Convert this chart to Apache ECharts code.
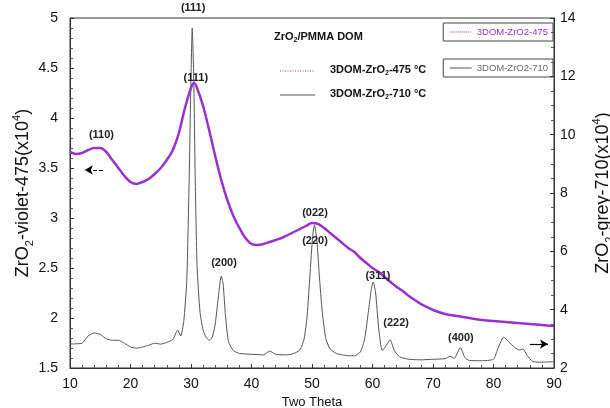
<!DOCTYPE html>
<html><head><meta charset="utf-8">
<script src="https://cdn.jsdelivr.net/npm/echarts@6/dist/echarts.min.js"></script>
<style>html,body{margin:0;padding:0;background:#fff}#c{width:610px;height:408px}</style>
</head><body><div id="c"></div>
<script>
// ---- data ----
const twoTheta475 = [10,11,12,13,14,15,16,17,18,19,20,21,22,23,24,25,26,27,28,29,30,30.5,31,32,33,34,35,36,37,38,39,40,41,42,43,44,45,46,47,48,49,50,51,52,53,54,55,56,57,58,59,60,61,62,63,64,65,66,67,68,69,70,72,74,76,78,80,82,84,86,88,90];
const intensity475 = [3.66,3.64,3.65,3.68,3.70,3.70,3.66,3.58,3.50,3.42,3.36,3.34,3.36,3.39,3.44,3.50,3.58,3.68,3.85,4.10,4.30,4.35,4.30,4.12,3.88,3.62,3.38,3.18,3.02,2.90,2.80,2.74,2.73,2.74,2.76,2.78,2.80,2.83,2.86,2.89,2.92,2.95,2.94,2.90,2.85,2.80,2.75,2.70,2.66,2.60,2.55,2.50,2.46,2.41,2.36,2.31,2.27,2.22,2.18,2.14,2.11,2.08,2.04,2.02,2.00,1.98,1.97,1.96,1.95,1.94,1.93,1.92];

const twoTheta710 = [10,11,12,13,14,15,16,17,18,19,20,21,22,23,24,25,26,27,27.8,28.3,28.8,29.3,29.7,30.0,30.2,30.45,30.7,31.0,31.5,32,32.5,33,33.5,34,34.5,35,35.3,35.7,36.2,37,38,40,42,43,44,46,47,48,48.7,49.2,49.7,50.1,50.4,50.8,51.2,51.7,52.3,53,54,55,56,57,58,58.7,59.3,59.8,60.1,60.5,61,61.6,62.2,62.9,63.6,64.5,66,68,70,72,72.8,73.5,74.5,75.3,76,78,80,80.6,81.2,81.7,82.5,83.5,84.3,84.9,85.5,86.5,88,90];
const intensity710 = [2.82,2.83,2.85,3.10,3.20,3.15,3.00,2.95,2.95,2.85,2.72,2.68,2.72,2.78,2.85,2.82,2.88,2.98,3.30,3.10,3.60,5.00,8.50,12.00,13.65,12.00,8.50,5.50,3.90,3.30,3.05,2.95,3.05,3.50,4.40,5.15,4.90,3.80,2.90,2.60,2.50,2.47,2.45,2.58,2.47,2.45,2.50,2.62,3.00,3.80,5.30,6.50,6.90,6.40,5.20,3.90,3.00,2.65,2.50,2.45,2.42,2.42,2.55,3.00,3.90,4.70,4.95,4.60,3.40,2.60,2.75,2.97,2.60,2.38,2.30,2.28,2.30,2.32,2.40,2.33,2.70,2.35,2.26,2.25,2.30,2.60,2.90,3.06,2.90,2.70,2.62,2.65,2.45,2.22,2.20,2.22];

const seriesNames = ['3DOM-ZrO2-475', '3DOM-ZrO2-710'];
const xTickLabels = [10,20,30,40,50,60,70,80,90];

// peak annotations: [label, twoTheta, value, labelOffsetY] on the axis of the series they belong to
const peaks475 = [['(110)',15.2,3.83,0],['(111)',30.8,4.40,0],['(022)',50.5,3.05,0]];
const peaks710 = [['(111)',30.35,14,-10],['(220)',50.5,6.36,0],['(200)',35.45,5.60,0],['(311)',60.9,5.16,0],['(222)',63.9,3.54,0],['(400)',74.6,3.03,0]];
// axis-pointer arrows
const arrow475 = [[15.45,3.48],[12.45,3.48]];
const arrow710 = [[86.0,2.82],[89.0,2.82]];

const purple = '#9b30d0';
const grey = '#555555';
const FONT = 'Liberation Sans, Arial, sans-serif';

const pairs = (xs, ys) => xs.map((x, i) => [x, ys[i]]);
const peakLabel = p => ({ name: p[0], coord: [p[1], p[2]], label: { offset: [0, p[3]] } });
const nameRich = {
  a: { fontSize: 18, lineHeight: 24, verticalAlign: 'middle', fontFamily: FONT, color: '#111' },
  s: { fontSize: 11, lineHeight: 11, verticalAlign: 'bottom', fontFamily: FONT, color: '#111' },
  p: { fontSize: 11, lineHeight: 11, verticalAlign: 'top', fontFamily: FONT, color: '#111' }
};
const subRich = { s: { fontSize: 7, fontWeight: 'bold', verticalAlign: 'bottom', lineHeight: 7, padding: [6, 0, 0, 0], fill: '#111', fontFamily: FONT },
                  n: { fontSize: 11, fontWeight: 'bold', lineHeight: 14, verticalAlign: 'middle', fill: '#111', fontFamily: FONT } };

const chart = echarts.init(document.getElementById('c'));
chart.setOption({
  animation: false,
  backgroundColor: '#fff',
  textStyle: { fontFamily: FONT },
  grid: { left: 70, right: 56, top: 18, bottom: 40, containLabel: false, outerBoundsMode: 'none',
    show: true, borderColor: '#333', borderWidth: 1, backgroundColor: 'transparent' },
  legend: [
    { data: [seriesNames[0]], right: 57, top: 23, orient: 'horizontal', padding: [4, 5, 4, 6],
      borderColor: '#444', borderWidth: 1, itemWidth: 22, itemHeight: 8, itemGap: 4,
      itemStyle: { opacity: 0 },
      textStyle: { color: purple, fontSize: 9.5, fontFamily: FONT }, lineStyle: { type: 'dotted', width: 1 } },
    { data: [seriesNames[1]], right: 57, top: 59, orient: 'horizontal', padding: [4, 5, 4, 6],
      borderColor: '#444', borderWidth: 1, itemWidth: 22, itemHeight: 8, itemGap: 4,
      itemStyle: { opacity: 0 },
      textStyle: { color: '#666', fontSize: 9.5, fontFamily: FONT }, lineStyle: { width: 1 } }
  ],
  xAxis: {
    type: 'value', min: 10, max: 90, interval: 10,
    name: 'Two Theta', nameLocation: 'middle', nameGap: 26,
    nameTextStyle: { fontSize: 13, color: '#111', fontFamily: FONT },
    axisLine: { lineStyle: { color: '#333' } },
    axisTick: { inside: true, length: 4, lineStyle: { color: '#333' } },
    minorTick: { show: true, splitNumber: 5, length: 3, lineStyle: { color: '#555' } },
    axisLabel: { fontSize: 14, color: '#111', margin: 9, fontFamily: FONT,
      formatter: v => xTickLabels.includes(v) ? String(v) : '' },
    splitLine: { show: false }
  },
  yAxis: [
    { type: 'value', min: 1.5, max: 5, interval: 0.5, position: 'left',
      name: '{a|ZrO}{s|2}{a|-violet-475(x10}{p|4}{a|)}', nameLocation: 'middle', nameGap: 35, nameRotate: 90,
      nameMoveOverlap: false,
      nameTextStyle: { fontSize: 18, color: '#111', fontFamily: FONT, rich: nameRich },
      axisLine: { show: true, lineStyle: { color: '#333' } },
      axisTick: { inside: true, length: 4, lineStyle: { color: '#333' } },
      minorTick: { show: true, splitNumber: 5, length: 3, lineStyle: { color: '#555' } },
      axisLabel: { fontSize: 14, color: '#111', margin: 12, fontFamily: FONT },
      splitLine: { show: false } },
    { type: 'value', min: 2, max: 14, interval: 2, position: 'right',
      name: '{a|ZrO}{s|2}{a|-grey-710(x10}{p|4}{a|)}', nameLocation: 'middle', nameGap: 37, nameRotate: 90,
      nameTextStyle: { fontSize: 18, color: '#111', fontFamily: FONT, rich: nameRich },
      axisLine: { show: true, lineStyle: { color: '#333' } },
      axisTick: { inside: true, length: 4, lineStyle: { color: '#333' } },
      minorTick: { show: true, splitNumber: 4, length: 3, lineStyle: { color: '#555' } },
      axisLabel: { fontSize: 14, color: '#111', margin: 6, fontFamily: FONT },
      splitLine: { show: false } }
  ],
  series: [
    { name: seriesNames[1], type: 'line', yAxisIndex: 1, data: pairs(twoTheta710, intensity710),
      showSymbol: false, symbol: 'none', smooth: 0.2, lineStyle: { color: grey, width: 1 }, itemStyle: { color: grey },
      z: 2,
      markPoint: { symbol: 'rect', symbolSize: 1, itemStyle: { color: 'rgba(0,0,0,0)' }, silent: true,
        label: { show: true, position: 'inside', formatter: '{b}', fontSize: 11, fontWeight: 'bold', color: '#222', fontFamily: FONT },
        data: peaks710.map(peakLabel) },
      markLine: { silent: true, symbol: ['none', 'arrow'], symbolSize: [7, 8], label: { show: false },
        lineStyle: { color: '#000', type: 'solid', width: 1.2 },
        data: [[{ coord: arrow710[0] }, { coord: arrow710[1] }]] } },
    { name: seriesNames[0], type: 'line', yAxisIndex: 0, data: pairs(twoTheta475, intensity475),
      showSymbol: false, symbol: 'none', smooth: 0.3, lineStyle: { color: purple, width: 2.5 }, itemStyle: { color: purple },
      z: 3,
      markPoint: { symbol: 'rect', symbolSize: 1, itemStyle: { color: 'rgba(0,0,0,0)' }, silent: true,
        label: { show: true, position: 'inside', formatter: '{b}', fontSize: 11, fontWeight: 'bold', color: '#222', fontFamily: FONT },
        data: peaks475.map(peakLabel) },
      markLine: { silent: true, symbol: ['none', 'arrow'], symbolSize: [7, 8], label: { show: false },
        lineStyle: { color: '#000', type: 'dashed', width: 1 },
        data: [[{ coord: arrow475[0] }, { coord: arrow475[1] }]] } }
  ],
  graphic: [
    { type: 'text', left: 274, top: 31, style: { text: '{n|ZrO}{s|2}{n|/PMMA DOM}', rich: subRich } },
    { type: 'line', shape: { x1: 280, y1: 71, x2: 315, y2: 71 }, style: { stroke: purple, lineWidth: 1, lineDash: [1, 1.5] } },
    { type: 'text', left: 330, top: 64, style: { text: '{n|3DOM-ZrO}{s|2}{n|-475 °C}', rich: subRich } },
    { type: 'line', shape: { x1: 280, y1: 95, x2: 315, y2: 95 }, style: { stroke: grey, lineWidth: 1 } },
    { type: 'text', left: 330, top: 88, style: { text: '{n|3DOM-ZrO}{s|2}{n|-710 °C}', rich: subRich } }
  ]
});
</script></body></html>
